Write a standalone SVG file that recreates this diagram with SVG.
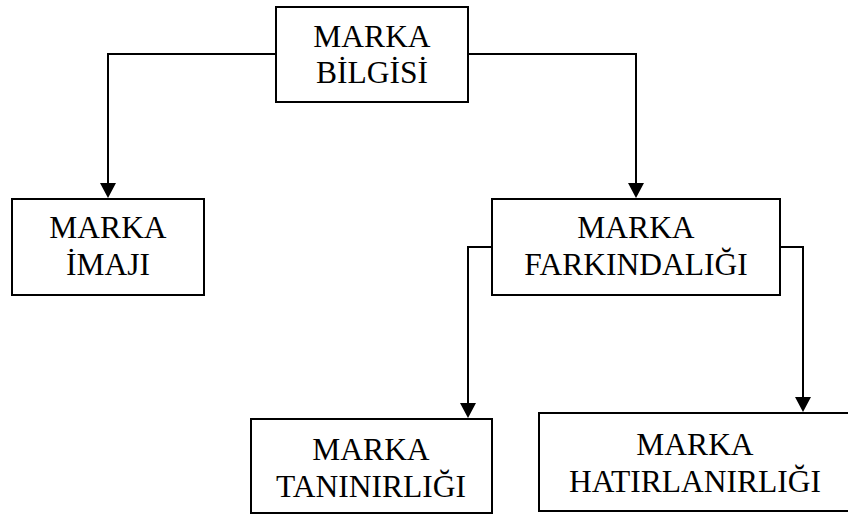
<svg xmlns="http://www.w3.org/2000/svg" width="848" height="516" viewBox="0 0 848 516">
  <style>
    .box { fill: #ffffff; stroke: #000000; stroke-width: 2; }
    .lbl { font-family: "Liberation Serif", "Times New Roman", serif; font-size: 31.5px; fill: #000000; text-anchor: middle; }
    .wire { fill: none; stroke: #000000; stroke-width: 2; }
  </style>
  <defs>
    <!-- arrow tip sits 10px beyond the end of the line -->
    <marker id="arrow" markerUnits="userSpaceOnUse" markerWidth="16" markerHeight="16" viewBox="0 -8 15 16" refX="5" refY="0" orient="auto">
      <polygon points="0,-8 15,0 0,8" fill="#000000"/>
    </marker>
  </defs>
  <rect x="0" y="0" width="848" height="516" fill="#ffffff"/>

  <g id="connectors">
    <path class="wire" d="M276,54 H108 V188" marker-end="url(#arrow)"/>
    <path class="wire" d="M468,54 H636 V188" marker-end="url(#arrow)"/>
    <path class="wire" d="M492,247 H468 V408" marker-end="url(#arrow)"/>
    <path class="wire" d="M780,247 H803 V402" marker-end="url(#arrow)"/>
  </g>

  <g id="marka-bilgisi">
    <rect class="box" x="276" y="7" width="192" height="95"/>
    <text class="lbl" x="372" y="47">MARKA</text>
    <text class="lbl" x="372" y="83">BİLGİSİ</text>
  </g>

  <g id="marka-imaji">
    <rect class="box" x="12" y="199" width="192" height="96"/>
    <text class="lbl" x="108" y="238">MARKA</text>
    <text class="lbl" x="108" y="275">İMAJI</text>
  </g>

  <g id="marka-farkindaligi">
    <rect class="box" x="492" y="199" width="288" height="96"/>
    <text class="lbl" x="636" y="238">MARKA</text>
    <text class="lbl" x="636" y="275">FARKINDALIĞI</text>
  </g>

  <g id="marka-taninirligi">
    <rect class="box" x="251" y="419" width="241" height="94"/>
    <text class="lbl" x="371" y="460">MARKA</text>
    <text class="lbl" x="371" y="497">TANINIRLIĞI</text>
  </g>

  <g id="marka-hatirlanirligi">
    <rect class="box" x="539" y="413" width="312" height="98"/>
    <text class="lbl" x="695" y="455">MARKA</text>
    <text class="lbl" x="695" y="492">HATIRLANIRLIĞI</text>
  </g>
</svg>
